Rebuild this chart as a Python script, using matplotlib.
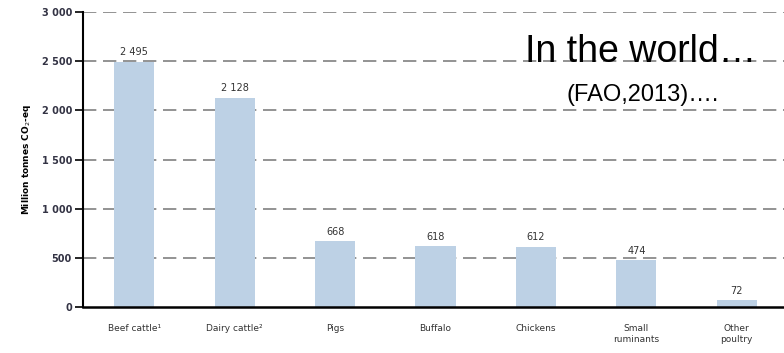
import matplotlib
matplotlib.use("Agg")
import matplotlib.pyplot as plt

categories = ["Beef cattle\u00b9", "Dairy cattle\u00b2", "Pigs", "Buffalo",
              "Chickens", "Small\nruminants", "Other\npoultry"]
emissions = [2495, 2128, 668, 618, 612, 474, 72]
value_labels = ["2 495", "2 128", "668", "618", "612", "474", "72"]
yticks = [0, 500, 1000, 1500, 2000, 2500, 3000]
ytick_labels = ["0", "500", "1 000", "1 500", "2 000", "2 500", "3 000"]

fig = plt.figure(figsize=(7.84, 3.53), dpi=100)
ax = fig.add_axes([0.106, 0.130, 0.894, 0.836])

x = range(len(categories))
ax.bar(x, emissions, width=0.4, color="#bdd1e5", zorder=2)

for i, v in enumerate(emissions):
    ax.text(i, v + 45, value_labels[i], ha="center", va="bottom",
            fontsize=7, color="#333333", family="DejaVu Sans")

# dashed gridlines
for t in yticks[1:]:
    ax.axhline(t, color="#808080", lw=1.2, dashes=(8, 4), zorder=1)

ax.set_xlim(-0.51, 6.47)
ax.set_ylim(0, 3000)
ax.set_yticks(yticks)
ax.set_yticklabels(ytick_labels, fontsize=7, color="#333344", fontweight="bold")
ax.set_xticks(list(x))
ax.set_xticklabels(categories, fontsize=6.5, color="#333333", linespacing=1.3)
ax.tick_params(axis="x", length=0, pad=12)
ax.tick_params(axis="y", length=6, width=1.2, direction="out", pad=2)

ax.spines["top"].set_visible(False)
ax.spines["right"].set_visible(False)
ax.spines["left"].set_linewidth(1.5)
ax.spines["bottom"].set_linewidth(1.8)

ax.set_ylabel("Million tonnes CO$_2$-eq", fontsize=6.5, fontweight="bold",
              labelpad=6)

fig.text(0.670, 0.823, "In the world\u2026", fontsize=27, family="Liberation Sans",
         color="black", va="baseline")
fig.text(0.722, 0.715, "(FAO,2013)\u2026.", fontsize=17, family="Liberation Sans",
         color="black", va="baseline")

fig.savefig("out.png", dpi=100)
